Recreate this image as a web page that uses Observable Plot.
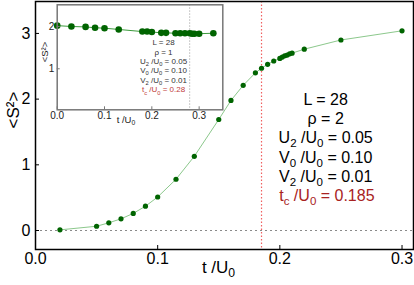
<!DOCTYPE html>
<html>
<head>
<meta charset="utf-8">
<script src="https://cdn.jsdelivr.net/npm/d3@7"></script>
<script src="https://cdn.jsdelivr.net/npm/@observablehq/plot@0.6"></script>
<style>
  html, body { margin: 0; padding: 0; background: white; }
  #wrap { position: relative; width: 414px; height: 285px; overflow: hidden; }
  #inset { position: absolute; left: 40px; top: 0px; }
  svg { display: block; }
</style>
</head>
<body>
<div id="wrap"><div id="main"></div><div id="inset"></div></div>
<script>
// ---- main curve (rho = 2) ----
const tMain = [0.02, 0.05, 0.06, 0.07, 0.08, 0.09, 0.10, 0.115, 0.13, 0.15, 0.16, 0.17, 0.18, 0.185, 0.19, 0.195, 0.20, 0.202, 0.204, 0.206, 0.208, 0.21, 0.22, 0.25, 0.30];
const sMain = [0.01, 0.065, 0.117, 0.178, 0.26, 0.37, 0.51, 0.78, 1.13, 1.69, 1.98, 2.21, 2.40, 2.47, 2.53, 2.58, 2.62, 2.64, 2.66, 2.67, 2.69, 2.70, 2.76, 2.90, 3.04];
const tcMain = 0.185;
const xTicksMain = [0.0, 0.1, 0.2, 0.3];
const yTicksMain = [0, 1, 2, 3];
const labelsMain = ["L = 28", "ρ = 2", "U_2 /U_0 = 0.05", "V_0 /U_0 = 0.10", "V_2 /U_0 = 0.01"];
const tcLabelMain = ["t_c /U_0 = 0.185"];

// ---- inset curve (rho = 1) ----
const tInset = [0.0, 0.03, 0.06, 0.08, 0.10, 0.13, 0.18, 0.19, 0.20, 0.22, 0.23, 0.25, 0.26, 0.27, 0.28, 0.285, 0.29, 0.30, 0.33];
const sInset = [2.02, 2.00, 1.99, 1.97, 1.96, 1.93, 1.88, 1.88, 1.87, 1.85, 1.85, 1.84, 1.84, 1.84, 1.84, 1.83, 1.83, 1.83, 1.84];
const tcInset = 0.28;
const xTicksInset = [0.0, 0.1, 0.2, 0.3];
const yTicksInset = [1, 2];
const labelsInset = ["L = 28", "ρ = 1", "U_2 /U_0 = 0.05", "V_0 /U_0 = 0.10", "V_2 /U_0 = 0.01"];
const tcLabelInset = ["t_c /U_0 = 0.28"];

const xLabel = "t /U_0";
const yLabel = "<S²>";

const mainData = tMain.map((t, i) => ({t, s: sMain[i]}));
const insetData = tInset.map((t, i) => ({t, s: sInset[i]}));

const FONT = "'Liberation Sans', Arial, Helvetica, sans-serif";
const RED = "#a82222";

const main = Plot.plot({
  width: 414, height: 285,
  marginLeft: 35, marginRight: 1, marginTop: 1, marginBottom: 36,
  style: {fontFamily: FONT, fontSize: "16px", background: "white", color: "black", overflow: "visible"},
  x: {domain: [0, 0.3094]},
  y: {domain: [-0.289, 3.486]},
  marks: [
    Plot.ruleY([0], {stroke: "#8a8a8a", strokeDasharray: "2,3", strokeWidth: 1}),
    Plot.ruleX([tcMain], {stroke: "#f06060", strokeDasharray: "1.5,2", strokeWidth: 1.2}),
    Plot.line(mainData, {x: "t", y: "s", stroke: "#8cc88c", strokeWidth: 1}),
    Plot.dot(mainData, {x: "t", y: "s", r: 2.6, fill: "#006400", stroke: "none"}),
    Plot.axisX({ticks: xTicksMain, tickFormat: d3.format(".1f"), tickSize: -4, tickPadding: 7, label: null}),
    Plot.axisY({ticks: yTicksMain, tickFormat: d3.format("d"), tickSize: -4, tickPadding: 9, label: null}),
    Plot.frame({stroke: "black", strokeWidth: 1.5}),
    Plot.text([xLabel], {frameAnchor: "bottom", text: d => d, dx: -6, dy: 23, fontSize: 17}),
    Plot.text([yLabel], {frameAnchor: "left", text: d => d, rotate: -90, dx: -22, dy: 3, fontSize: 17}),
    Plot.text(labelsMain, {x: () => 0.2375, y: (d, i) => 1.994 - i * 0.2945, text: d => d, fontSize: 16, fill: "black"}),
    Plot.text(tcLabelMain, {x: () => 0.2385, y: () => 0.525, text: d => d, fontSize: 16, fill: RED})
  ]
});

const inset = Plot.plot({
  width: 190, height: 128,
  marginLeft: 16.7, marginRight: 7.7, marginTop: 4.3, marginBottom: 18.7,
  style: {fontFamily: FONT, fontSize: "10px", background: "transparent", color: "#222", overflow: "visible"},
  x: {domain: [0, 0.35]},
  y: {domain: [0.03, 2.513]},
  marks: [
    Plot.frame({fill: "white", stroke: "none"}),
    Plot.ruleX([tcInset], {stroke: "#b8b8b8", strokeDasharray: "1.5,1.5", strokeWidth: 1}),
    Plot.line(insetData, {x: "t", y: "s", stroke: "#3c9a3c", strokeWidth: 1}),
    Plot.dot(insetData, {x: "t", y: "s", r: 3.3, fill: "#006400", stroke: "none"}),
    Plot.axisX({ticks: xTicksInset, tickFormat: d3.format(".1f"), tickSize: -3, tickPadding: 5, label: null, stroke: "#777"}),
    Plot.axisY({ticks: yTicksInset, tickFormat: d3.format("d"), tickSize: -3, tickPadding: 6, label: null, stroke: "#777"}),
    Plot.frame({stroke: "#777", strokeWidth: 1.5}),
    Plot.text([xLabel], {frameAnchor: "bottom", text: d => d, dx: -14, dy: 13, fontSize: 9.5}),
    Plot.text([yLabel], {frameAnchor: "left", text: d => d, rotate: -90, dx: -12, dy: 5, fontSize: 9.5}),
    Plot.text(labelsInset, {x: () => 0.2247, y: (d, i) => 1.62 - i * 0.222, text: d => d, fontSize: 8, fill: "#333"}),
    Plot.text(tcLabelInset, {x: () => 0.2247, y: () => 0.50, text: d => d, fontSize: 8, fill: "#c03a3a"})
  ]
});

// turn "_x" markers into real subscripts (text stays text)
function subify(svg) {
  const ns = "http://www.w3.org/2000/svg";
  svg.querySelectorAll("text").forEach(t => {
    const targets = t.querySelector("tspan") ? Array.from(t.querySelectorAll("tspan")) : [t];
    targets.forEach(el => {
      const s = el.textContent;
      if (!s.includes("_")) return;
      el.textContent = "";
      let shifted = false;
      s.split(/(_\w)/).forEach(p => {
        if (!p) return;
        const ts = document.createElementNS(ns, "tspan");
        if (p.startsWith("_")) {
          ts.textContent = p.slice(1);
          ts.setAttribute("font-size", "72%");
          ts.setAttribute("dy", "0.35em");
          shifted = true;
        } else {
          ts.textContent = p;
          if (shifted) { ts.setAttribute("dy", "-0.252em"); shifted = false; }
        }
        el.appendChild(ts);
      });
    });
  });
}
subify(main);
subify(inset);

document.getElementById("main").appendChild(main);
document.getElementById("inset").appendChild(inset);
</script>
</body>
</html>
